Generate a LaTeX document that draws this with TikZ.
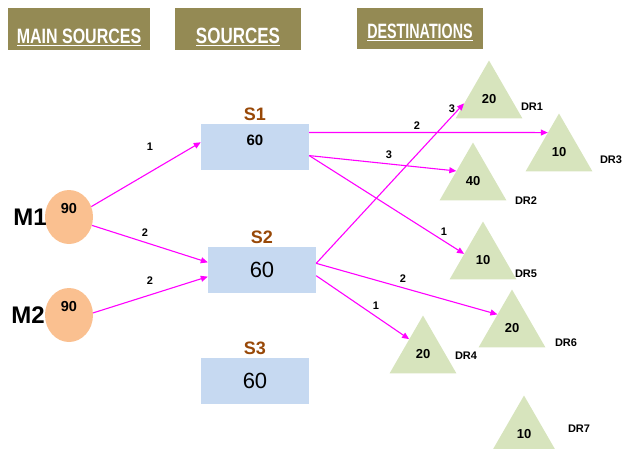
\documentclass[tikz,border=0pt]{standalone}
\usepackage{fontspec}
\setmainfont{Liberation Sans}
\usepackage{graphicx}
\usepackage{tikz}
\usetikzlibrary{arrows.meta, positioning, shapes.geometric}
\definecolor{olivehead}{HTML}{948A54}
\definecolor{peach}{HTML}{FAC090}
\definecolor{boxblue}{HTML}{C6D9F1}
\definecolor{sagegreen}{HTML}{D7E4BD}
\definecolor{rust}{HTML}{984807}
\definecolor{pinkline}{HTML}{FF00FF}

% header text: raise, vertical stretch, text
\newcommand{\hdtext}[3]{\raisebox{#1}[0pt][0pt]{\scalebox{1}[#2]{\underline{#3}}}}

\tikzset{
  header/.style={fill=olivehead, text=white, inner sep=0pt, minimum height=42pt},
  mainsrc/.style={ellipse, fill=peach, minimum width=48pt, minimum height=54pt, inner sep=0pt, text height=10pt, text depth=17pt, font=\bfseries\fontsize{14.5}{16}\selectfont},
  srcbox/.style={rectangle, fill=boxblue, minimum width=108pt, minimum height=46pt, inner sep=0pt, font=\fontsize{22}{24}\selectfont},
  dest/.style={regular polygon, regular polygon sides=3, fill=sagegreen, minimum size=77pt, inner sep=0pt, font=\bfseries\fontsize{13}{15}\selectfont},
  mlab/.style={inner sep=0pt, font=\bfseries\fontsize{24}{26}\selectfont},
  slab/.style={inner sep=0pt, text=rust, font=\bfseries\fontsize{18}{20}\selectfont},
  dlab/.style={inner sep=0pt, font=\bfseries\fontsize{11}{13}\selectfont},
  elab/.style={inner sep=0pt, font=\bfseries\fontsize{11}{13}\selectfont},
  flow/.style={draw=pinkline, line width=1.1pt, -{Triangle[length=7pt,width=6pt]}}
}

\begin{document}
\begin{tikzpicture}[x=1pt, y=-1pt]
  \useasboundingbox (0,0) rectangle (622,448);

  % column headers
  \node[header, minimum width=142pt, font=\bfseries\fontsize{16}{18}\selectfont] (hmain) at (79,29) {\hdtext{-14pt}{1.3}{MAIN SOURCES}};
  \node[header, minimum width=126pt, font=\bfseries\fontsize{17}{19}\selectfont] (hsrc) at (238,29) {\hdtext{-14pt}{1.3}{SOURCES}};
  \node[header, minimum width=126pt, minimum height=41pt, font=\bfseries\fontsize{14.3}{16}\selectfont] (hdest) at (420,28.5) {\hdtext{-9.5pt}{1.45}{DESTINATIONS}};

  % main sources
  \node[mainsrc] (m1) at (69,217) {90};
  \node[mainsrc] (m2) at (69,315) {90};
  \node[mlab, left=-2pt of m1] (m1lab) {M1};
  \node[mlab, left=0pt of m2] (m2lab) {M2};

  % sources
  \node[srcbox, font=\bfseries\fontsize{15}{17}\selectfont, text height=10.5pt, text depth=14pt] (s1) at (255,147) {60};
  \node[srcbox] (s2) at (262,270) {60};
  \node[srcbox] (s3) at (255,381) {60};
  \node[slab, above=3pt of s1] (s1lab) {S1};
  \node[slab, above=3pt of s2] (s2lab) {S2};
  \node[slab, above=3pt of s3] (s3lab) {S3};

  % destinations
  \node[dest] (dr1) at (489,99) {20};
  \node[dest] (dr3) at (559,152) {10};
  \node[dest] (dr2) at (473,181) {40};
  \node[dest] (dr5) at (483,260) {10};
  \node[dest] (dr6) at (512,328) {20};
  \node[dest] (dr4) at (423,354) {20};
  \node[dest] (dr7) at (524,434) {10};
  \node[dlab] (dr1lab) at (532,107) {DR1};
  \node[dlab] (dr3lab) at (611,160) {DR3};
  \node[dlab] (dr2lab) at (526,201) {DR2};
  \node[dlab] (dr5lab) at (526,274) {DR5};
  \node[dlab] (dr6lab) at (566,343) {DR6};
  \node[dlab] (dr4lab) at (466,356) {DR4};
  \node[dlab] (dr7lab) at (579,429) {DR7};

  % flows
  \draw[flow] (m1.25) -- (s1.175);
  \draw[flow] (m1.-20) -- (s2.172);
  \draw[flow] (m2.5) -- (s2.187);
  \draw[flow] (s1.15) -- (dr3.120);
  \draw[flow] (s1.-9) -- (dr2.149);
  \draw[flow] (s1.-9) -- (dr5.162);
  \draw[flow] (s2.7) -- (dr1.190);
  \draw[flow] (s2.7) -- (dr6.137);
  \draw[flow] (s2.-6) -- (dr4.133);

  % flow amounts
  \node[elab] (f1) at (150,147) {1};
  \node[elab] (f2) at (145,233) {2};
  \node[elab] (f3) at (150,281) {2};
  \node[elab] (f4) at (417,126) {2};
  \node[elab] (f5) at (389,155) {3};
  \node[elab] (f6) at (444,232) {1};
  \node[elab] (f7) at (452,109) {3};
  \node[elab] (f8) at (403,279) {2};
  \node[elab] (f9) at (376,306) {1};
\end{tikzpicture}
\end{document}
